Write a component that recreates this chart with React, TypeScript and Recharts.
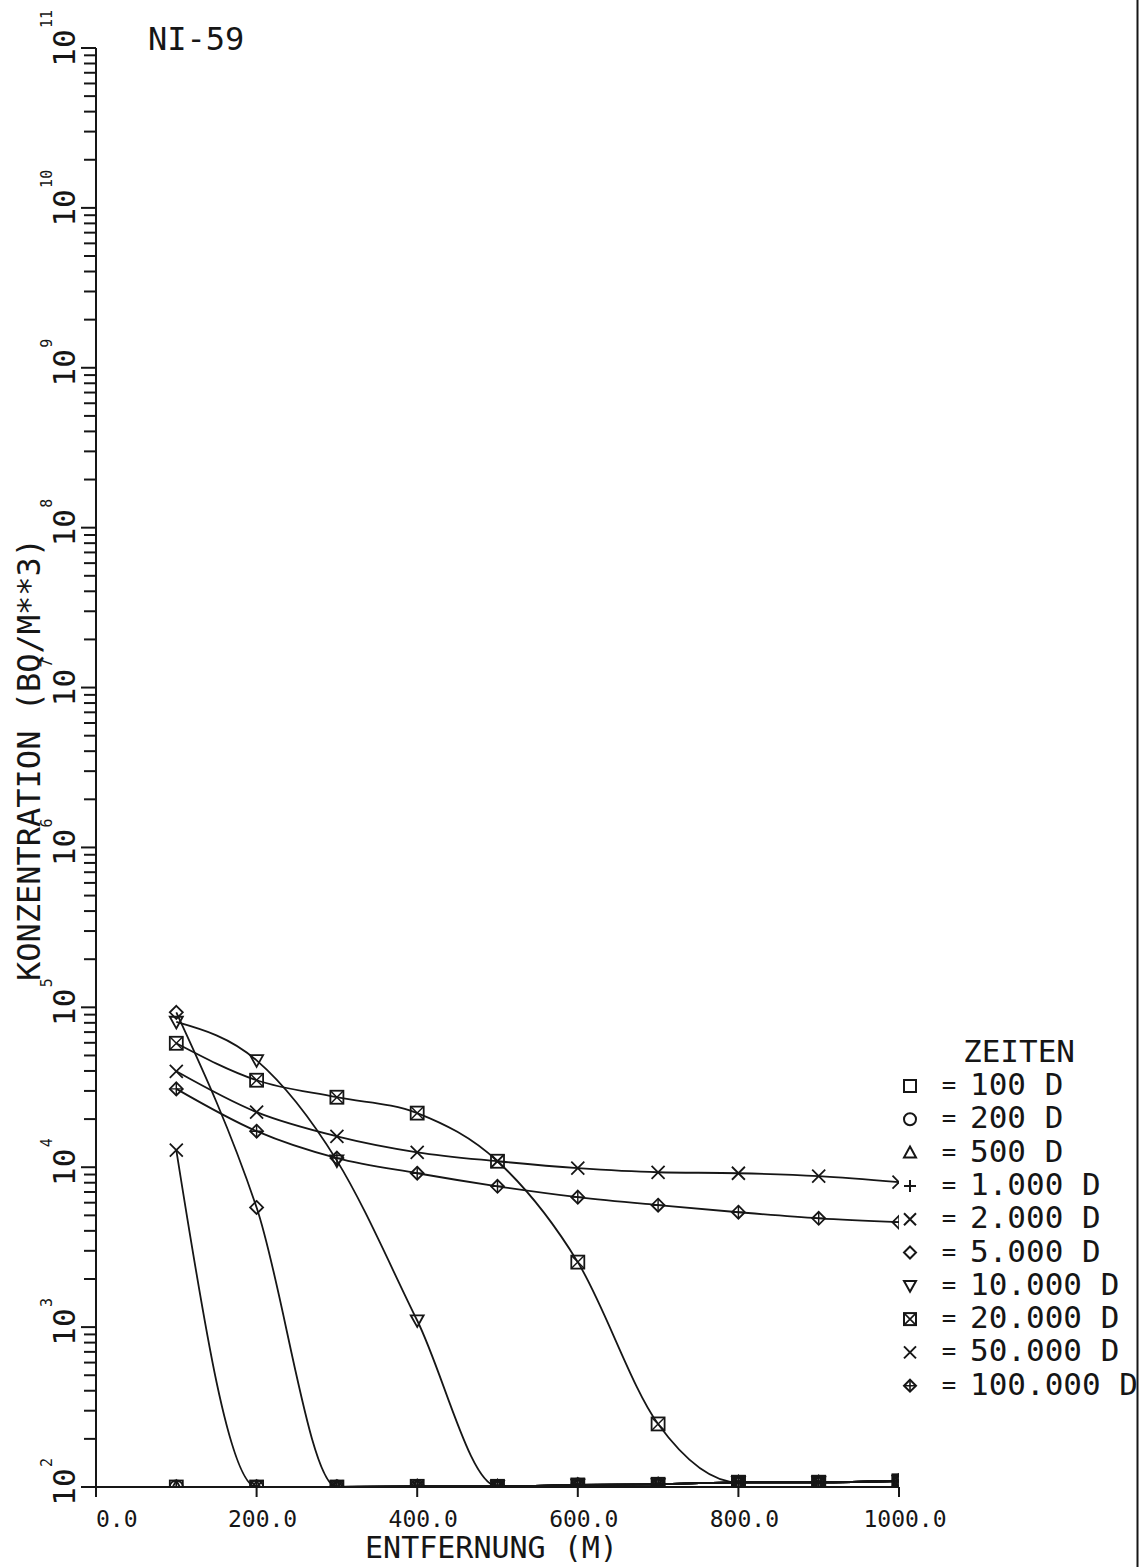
import React from 'react';
import { LineChart, Line, XAxis, YAxis, Legend } from 'recharts';

// ---------- data ----------
const DISTANCES = [100, 200, 300, 400, 500, 600, 700, 800, 900, 1000];
const TIME_LABELS = ['100 D', '200 D', '500 D', '1.000 D', '2.000 D', '5.000 D', '10.000 D', '20.000 D', '50.000 D', '100.000 D'];
const T_100 = [100, 100, 100, 101, 101, 103, 104, 107, 107, 109];
const T_200 = [100, 100, 100, 101, 101, 103, 104, 107, 107, 109];
const T_500 = [100, 100, 100, 101, 101, 103, 104, 107, 107, 109];
const T_1000 = [100, 100, 100, 101, 101, 103, 104, 107, 107, 109];
const T_2000 = [12800, 100, 100, 101, 101, 103, 104, 107, 107, 109];
const T_5000 = [93000, 5600, 100, 101, 101, 103, 104, 107, 107, 109];
const T_10000 = [81000, 46600, 11000, 1100, 101, 103, 104, 107, 107, 109];
const T_20000 = [59600, 35000, 27400, 21800, 10900, 2550, 248, 107, 107, 109];
const T_50000 = [39800, 22100, 15600, 12400, 10900, 9860, 9300, 9170, 8790, 8060];
const T_100000 = [30900, 16800, 11400, 9170, 7600, 6500, 5790, 5230, 4790, 4530];
const SERIES_VALUES = [T_100, T_200, T_500, T_1000, T_2000, T_5000, T_10000, T_20000, T_50000, T_100000];
const SHAPES = ['square', 'circle', 'triangle', 'plus', 'cross', 'diamond', 'triangleDown', 'boxCross', 'star', 'diamondPlus'];
const X_TICKS = [0, 200, 400, 600, 800, 1000];
const Y_DECADES = [2, 3, 4, 5, 6, 7, 8, 9, 10, 11];

const Y_TICKS: number[] = [];
Y_DECADES.forEach((e) => {
  if (e === 11) {
    Y_TICKS.push(Math.pow(10, e));
  } else {
    for (let k = 1; k <= 9; k++) Y_TICKS.push(k * Math.pow(10, e));
  }
});

const DATA = DISTANCES.map((x, i) => {
  const row: any = { x };
  SERIES_VALUES.forEach((vals, s) => {
    row['s' + s] = vals[i];
  });
  return row;
});

// ---------- styling ----------
const INK = '#161616';
const FONT = '"DejaVu Sans Mono", "Liberation Mono", monospace';

function Marker({ kind, cx, cy, s = 6.5, sw = 1.8 }: any) {
  if (cx == null || cy == null) return null;
  const c = { fill: 'none', stroke: INK, strokeWidth: sw };
  switch (kind) {
    case 'square':
      return <rect x={cx - s} y={cy - s} width={2 * s} height={2 * s} {...c} />;
    case 'circle':
      return <circle cx={cx} cy={cy} r={s} {...c} />;
    case 'triangle':
      return <polygon points={`${cx},${cy - s} ${cx + s},${cy + s * 0.8} ${cx - s},${cy + s * 0.8}`} {...c} />;
    case 'triangleDown':
      return <polygon points={`${cx},${cy + s} ${cx + s},${cy - s * 0.8} ${cx - s},${cy - s * 0.8}`} {...c} />;
    case 'plus':
      return <path d={`M${cx - s},${cy}H${cx + s}M${cx},${cy - s}V${cy + s}`} {...c} />;
    case 'cross':
    case 'star':
      return <path d={`M${cx - s},${cy - s}L${cx + s},${cy + s}M${cx + s},${cy - s}L${cx - s},${cy + s}`} {...c} />;
    case 'diamond':
      return <polygon points={`${cx},${cy - s} ${cx + s},${cy} ${cx},${cy + s} ${cx - s},${cy}`} {...c} />;
    case 'boxCross':
      return (
        <g>
          <rect x={cx - s} y={cy - s} width={2 * s} height={2 * s} {...c} />
          <path d={`M${cx - s},${cy - s}L${cx + s},${cy + s}M${cx + s},${cy - s}L${cx - s},${cy + s}`} {...c} strokeWidth={sw * 0.8} />
        </g>
      );
    case 'diamondPlus':
      return (
        <g>
          <polygon points={`${cx},${cy - s} ${cx + s},${cy} ${cx},${cy + s} ${cx - s},${cy}`} {...c} />
          <path d={`M${cx - s},${cy}H${cx + s}M${cx},${cy - s}V${cy + s}`} {...c} strokeWidth={sw * 0.8} />
        </g>
      );
    default:
      return null;
  }
}

function XTick(props: any) {
  const { x, y, payload } = props;
  const v = payload.value;
  const isZero = v === 0;
  return (
    <text x={isZero ? x : x + 6} y={y + 30} textAnchor={isZero ? 'start' : 'middle'} fontFamily={FONT} fontSize={23} fill={INK}>
      {v.toFixed(1)}
    </text>
  );
}

function YTick(props: any) {
  const { x, y, payload } = props;
  const v = payload.value;
  const e = Math.round(Math.log10(v));
  const isMajor = Math.abs(v - Math.pow(10, e)) < v * 1e-9;
  const len = isMajor ? 15 : 12;
  return (
    <g>
      <line x1={x - len} y1={y} x2={x} y2={y} stroke={INK} strokeWidth={2} />
      {isMajor && (
        <g transform={`translate(${x - 21},${y}) rotate(-90)`}>
          <text x={0} y={0} textAnchor="middle" fontFamily={FONT} fontSize={31} fill={INK}>10</text>
          <text x={20} y={-23} textAnchor="start" fontFamily={FONT} fontSize={15} fill={INK}>{String(e)}</text>
        </g>
      )}
    </g>
  );
}

function YTitle(props: any) {
  const vb = props.viewBox || { x: 0, y: 48, width: 96, height: 1439 };
  const cx = vb.x + 40;
  const cy = vb.y + vb.height / 2 - 8;
  return (
    <text transform={`translate(${cx},${cy}) rotate(-90)`} textAnchor="middle" fontFamily={FONT} fontSize={32} fill={INK}>
      KONZENTRATION (BQ/M**3)
    </text>
  );
}

function XTitle(props: any) {
  const vb = props.viewBox || { x: 96, y: 1487, width: 803, height: 80 };
  const cx = vb.x + vb.width / 2 - 6;
  return (
    <text x={cx} y={1558} textAnchor="middle" fontFamily={FONT} fontSize={30} fill={INK}>
      ENTFERNUNG (M)
    </text>
  );
}

function LegendContent(props: any) {
  const payload = [...(props.payload || [])].sort(
    (a: any, b: any) => TIME_LABELS.indexOf(a.value) - TIME_LABELS.indexOf(b.value)
  );
  return (
    <svg width={250} height={380} style={{ display: 'block', overflow: 'visible' }}>
      <text x={68} y={37} fontFamily={FONT} fontSize={31} fill={INK}>ZEITEN</text>
      {payload.map((entry: any, i: number) => {
        const idx = TIME_LABELS.indexOf(entry.value);
        const rowBase = 70 + i * 33.3;
        return (
          <g key={entry.value}>
            <Marker kind={SHAPES[idx]} cx={15} cy={rowBase - 9} s={6} sw={2} />
            <text x={54} y={rowBase - 2} textAnchor="middle" fontFamily={FONT} fontSize={24} fill={INK}>=</text>
            <text x={75} y={rowBase} fontFamily={FONT} fontSize={31} fill={INK}>{entry.value}</text>
          </g>
        );
      })}
    </svg>
  );
}

export default function App() {
  return (
    <div style={{ position: 'absolute', left: 0, top: 0, width: 1141, height: 1567, background: '#fff', overflow: 'hidden' }}>
      <LineChart width={1141} height={1567} data={DATA} margin={{ top: 48, right: 242, bottom: 0, left: 0 }}>
        <XAxis
          type="number"
          dataKey="x"
          domain={[0, 1000]}
          ticks={X_TICKS}
          interval={0}
          allowDataOverflow
          height={80}
          tickSize={10}
          tickMargin={0}
          stroke={INK}
          axisLine={{ stroke: INK, strokeWidth: 2 }}
          tickLine={{ stroke: INK, strokeWidth: 2 }}
          tick={<XTick />}
          label={{ content: (p: any) => <XTitle {...p} /> }}
        />
        <YAxis
          type="number"
          scale="log"
          domain={[100, 1e11]}
          ticks={Y_TICKS}
          interval={0}
          allowDataOverflow
          width={96}
          tickSize={0}
          tickMargin={0}
          tickLine={false}
          stroke={INK}
          axisLine={{ stroke: INK, strokeWidth: 2 }}
          tick={<YTick />}
          label={{ content: (p: any) => <YTitle {...p} /> }}
        />
        <Legend
          layout="horizontal"
          verticalAlign="middle"
          align="center"
          itemSorter={null as any}
          content={<LegendContent />}
          wrapperStyle={{ position: 'absolute', left: 895, top: 1025, width: 250, height: 380 }}
        />
        {TIME_LABELS.map((name, s) => (
          <Line
            key={name}
            name={name}
            dataKey={'s' + s}
            type="monotone"
            stroke={INK}
            strokeWidth={1.8}
            isAnimationActive={false}
            dot={(p: any) => <Marker key={`d-${s}-${p.index}`} kind={SHAPES[s]} cx={p.cx} cy={p.cy} />}
            activeDot={false}
          />
        ))}
      </LineChart>
      <svg width={1141} height={1567} style={{ position: 'absolute', left: 0, top: 0, pointerEvents: 'none' }}>
        <text x={148} y={50} fontFamily={FONT} fontSize={32} fill={INK}>NI-59</text>
        <line x1={1137.5} y1={0} x2={1137.5} y2={1567} stroke={INK} strokeWidth={2} />
      </svg>
    </div>
  );
}
